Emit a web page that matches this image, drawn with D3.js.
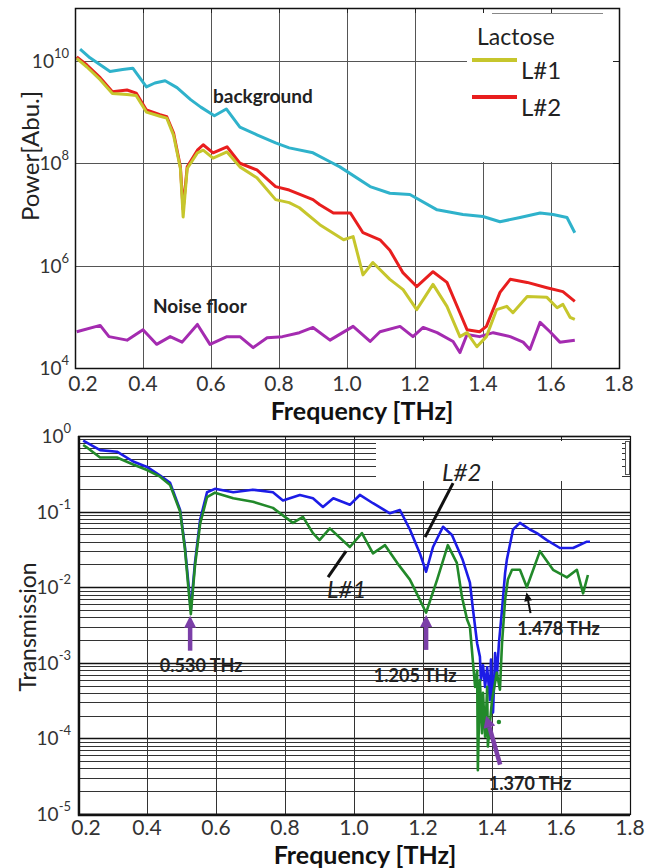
<!DOCTYPE html>
<html>
<head>
<meta charset="utf-8">
<script src="https://cdn.jsdelivr.net/npm/d3@7/dist/d3.min.js"></script>
<style>
  body { margin: 0; background: #fff; }
  svg { display: block; font-family: Lato, "Open Sans", sans-serif; }
</style>
</head>
<body>
<div id="chart"></div>
<script>
// ---- top panel: power spectra ----
const freqTicks = [0.2, 0.4, 0.6, 0.8, 1.0, 1.2, 1.4, 1.6, 1.8];
const powerTicks = [1e4, 1e6, 1e8, 1e10];

const bgFreq = [0.215, 0.244, 0.303, 0.34, 0.37, 0.41, 0.435, 0.465, 0.50, 0.54, 0.57, 0.61, 0.645, 0.685, 0.735, 0.79, 0.83, 0.90, 0.95, 0.979, 1.068, 1.126, 1.185, 1.265, 1.341, 1.40, 1.45, 1.509, 1.568, 1.606, 1.647, 1.67];
const bgPower = [1.7e10, 1.15e10, 6.2e9, 6.8e9, 7.2e9, 3.1e9, 3.7e9, 4.1e9, 3.0e9, 1.75e9, 1.25e9, 8.5e8, 1.15e9, 5.1e8, 3.6e8, 2.5e8, 2.0e8, 1.6e8, 1.07e8, 8.5e7, 3.5e7, 2.6e7, 2.45e7, 1.23e7, 1.0e7, 9.1e6, 7.2e6, 8.7e6, 1.07e7, 1.0e7, 8.7e6, 4.4e6];

const l2Freq = [0.205, 0.235, 0.274, 0.31, 0.353, 0.38, 0.41, 0.45, 0.47, 0.49, 0.51, 0.518, 0.53, 0.56, 0.577, 0.606, 0.647, 0.685, 0.735, 0.79, 0.83, 0.90, 0.92, 0.96, 1.01, 1.047, 1.097, 1.126, 1.165, 1.205, 1.253, 1.294, 1.332, 1.353, 1.39, 1.41, 1.45, 1.48, 1.53, 1.588, 1.635, 1.67];
const l2Power = [1.2e10, 8.3e9, 4.7e9, 2.5e9, 2.7e9, 2.35e9, 1.1e9, 8.9e8, 8.1e8, 3.9e8, 8.5e7, 1.26e7, 8.5e7, 1.8e8, 2.3e8, 1.6e8, 2.1e8, 1.0e8, 7.4e7, 3.5e7, 3.0e7, 1.95e7, 1.55e7, 1.07e7, 1.07e7, 4.4e6, 3.2e6, 2.0e6, 7.2e5, 3.9e5, 7.6e5, 4.7e5, 1.2e5, 5.6e4, 5.1e4, 6.5e4, 3.0e5, 5.4e5, 4.7e5, 3.7e5, 3.1e5, 2.0e5];

const l1Freq = [0.205, 0.235, 0.274, 0.31, 0.353, 0.38, 0.41, 0.45, 0.47, 0.49, 0.51, 0.518, 0.53, 0.56, 0.577, 0.606, 0.647, 0.685, 0.735, 0.79, 0.83, 0.86, 0.92, 0.99, 1.018, 1.047, 1.076, 1.126, 1.165, 1.205, 1.253, 1.294, 1.332, 1.353, 1.382, 1.41, 1.44, 1.47, 1.488, 1.53, 1.588, 1.618, 1.635, 1.656, 1.67];
const l1Power = [1.12e10, 7.6e9, 4.3e9, 2.3e9, 2.2e9, 2.1e9, 1.0e9, 8.3e8, 7.6e8, 3.5e8, 7.9e7, 8.9e6, 7.9e7, 1.6e8, 1.8e8, 1.26e8, 1.66e8, 8.5e7, 5.2e7, 1.95e7, 1.7e7, 1.35e7, 6.3e6, 3.2e6, 3.7e6, 6.6e5, 1.15e6, 5.4e5, 3.4e5, 1.38e5, 4.3e5, 1.6e5, 4.1e4, 4.9e4, 2.6e4, 4.1e4, 1.38e5, 1.6e5, 1.2e5, 2.5e5, 2.4e5, 1.5e5, 1.75e5, 9.8e4, 8.9e4];

const noiseFreq = [0.205, 0.274, 0.30, 0.353, 0.40, 0.44, 0.48, 0.515, 0.56, 0.597, 0.647, 0.685, 0.724, 0.765, 0.81, 0.86, 0.90, 0.95, 1.018, 1.068, 1.097, 1.156, 1.194, 1.224, 1.265, 1.312, 1.332, 1.353, 1.39, 1.43, 1.48, 1.518, 1.538, 1.568, 1.597, 1.626, 1.67];
const noisePower = [5.1e4, 6.8e4, 4.1e4, 3.5e4, 5.6e4, 2.9e4, 4.1e4, 3.2e4, 7.1e4, 2.9e4, 4.1e4, 4.1e4, 2.5e4, 3.9e4, 4.1e4, 4.9e4, 6.2e4, 3.5e4, 6.5e4, 3.3e4, 5.1e4, 6.5e4, 4.1e4, 6.2e4, 4.9e4, 3.3e4, 2.0e4, 4.5e4, 4.1e4, 4.9e4, 4.1e4, 3.2e4, 2.3e4, 7.8e4, 5.1e4, 3.2e4, 3.5e4];

const legendNames = ["L#1", "L#2"];

// ---- bottom panel: transmission ----
const transTicks = [1e-5, 1e-4, 1e-3, 1e-2, 1e-1, 1];

const blueFreq = [0.215, 0.223, 0.264, 0.313, 0.36, 0.40, 0.438, 0.467, 0.496, 0.51, 0.519, 0.527, 0.539, 0.554, 0.574, 0.597, 0.65, 0.707, 0.765, 0.794, 0.843, 0.881, 0.91, 0.94, 0.988, 1.017, 1.055, 1.104, 1.133, 1.162, 1.191, 1.209, 1.229, 1.258, 1.284, 1.315, 1.336, 1.345, 1.357, 1.365, 1.368, 1.374, 1.380, 1.386, 1.394, 1.397, 1.403, 1.409, 1.414, 1.420, 1.429, 1.438, 1.443, 1.461, 1.481, 1.51, 1.53, 1.559, 1.597, 1.635, 1.675, 1.684];
const blueTrans = [0.87, 0.83, 0.65, 0.62, 0.46, 0.39, 0.30, 0.24, 0.105, 0.034, 0.0126, 0.005, 0.021, 0.078, 0.18, 0.20, 0.18, 0.195, 0.18, 0.14, 0.166, 0.15, 0.115, 0.15, 0.123, 0.166, 0.129, 0.095, 0.105, 0.058, 0.028, 0.016, 0.034, 0.063, 0.049, 0.023, 0.0115, 0.005, 0.0018, 0.0012, 5.9e-4, 9.3e-4, 4.8e-4, 8.7e-4, 3.2e-4, 1.1e-3, 2.2e-4, 1.35e-3, 6.5e-4, 1.8e-3, 5.0e-3, 0.0155, 0.023, 0.058, 0.071, 0.058, 0.052, 0.042, 0.033, 0.033, 0.040, 0.040];

const greenFreq = [0.215, 0.223, 0.264, 0.313, 0.36, 0.40, 0.438, 0.467, 0.496, 0.51, 0.519, 0.527, 0.539, 0.554, 0.574, 0.597, 0.65, 0.707, 0.765, 0.823, 0.852, 0.881, 0.90, 0.93, 0.988, 1.023, 1.055, 1.09, 1.125, 1.162, 1.191, 1.209, 1.241, 1.272, 1.298, 1.313, 1.328, 1.336, 1.345, 1.351, 1.357, 1.359, 1.365, 1.371, 1.374, 1.380, 1.386, 1.388, 1.400, 1.414, 1.423, 1.429, 1.438, 1.446, 1.458, 1.481, 1.501, 1.539, 1.577, 1.617, 1.646, 1.664, 1.678];
const greenTrans = [0.76, 0.72, 0.52, 0.52, 0.42, 0.355, 0.29, 0.224, 0.10, 0.032, 0.011, 0.0044, 0.019, 0.069, 0.155, 0.178, 0.15, 0.135, 0.112, 0.071, 0.085, 0.052, 0.042, 0.060, 0.034, 0.052, 0.028, 0.036, 0.021, 0.0126, 0.0068, 0.0046, 0.0126, 0.036, 0.021, 0.0074, 0.0037, 0.003, 1.0e-3, 4.8e-4, 7.9e-4, 3.8e-5, 5.9e-4, 1.17e-4, 4.0e-4, 1.05e-4, 4.8e-4, 7.8e-5, 3.2e-4, 7.4e-4, 4.4e-4, 1.8e-3, 6.8e-3, 0.0126, 0.017, 0.017, 0.010, 0.030, 0.017, 0.0135, 0.017, 0.0083, 0.0145];

// resonance notes: text, arrow tip (freq, transmission), colour
const noteText = ["0.530 THz", "1.205 THz", "1.370 THz", "1.478 THz"];
const noteTipFreq = [0.525, 1.209, 1.383, 1.500];
const noteTipTrans = [4.2e-3, 4.3e-3, 2.0e-4, 8.6e-3];
const noteColor = ["#7b3fa8", "#7b3fa8", "#7b3fa8", "#111"];
// small offsets of arrow tail and label from the tip (px)
const noteTail = [[0, 35], [0, 35], [14, 49], [4, 21]];
const noteLabel = [[11, 56], [-11, 67], [44, 74], [32, 43]];

const W = 645, H = 868;
const svg = d3.select("#chart").append("svg")
  .attr("width", W)
  .attr("height", H);

const crisp = v => Math.round(v) + 0.5;

// ================= top panel =================
const x1 = d3.scaleLinear().domain([0.2, 1.8]).range([75, 619]);
const y1 = d3.scaleLog().domain([1e4, 1.08e11]).range([368, 8]);

const g1 = svg.append("g");

g1.selectAll(".vgrid").data(freqTicks).join("line")
  .attr("x1", d => crisp(x1(d))).attr("x2", d => crisp(x1(d)))
  .attr("y1", y1.range()[0]).attr("y2", y1.range()[1])
  .attr("stroke", "#555").attr("stroke-width", 1);

g1.selectAll(".hgrid").data(powerTicks).join("line")
  .attr("x1", x1.range()[0]).attr("x2", x1.range()[1])
  .attr("y1", d => crisp(y1(d))).attr("y2", d => crisp(y1(d)))
  .attr("stroke", "#555").attr("stroke-width", 1);

// legend box (white, hides the grid)
g1.append("rect")
  .attr("x", 467).attr("y", 10).attr("width", 150).attr("height", 152)
  .attr("fill", "#fff");
g1.append("line")
  .attr("x1", 492).attr("x2", 603).attr("y1", 13.5).attr("y2", 13.5)
  .attr("stroke", "#888").attr("stroke-width", 1);

// inner ticks
g1.selectAll(".tickT").data(freqTicks).join("line")
  .attr("x1", d => crisp(x1(d))).attr("x2", d => crisp(x1(d)))
  .attr("y1", 8).attr("y2", 13).attr("stroke", "#222");
g1.selectAll(".tickR").data(powerTicks).join("line")
  .attr("x1", 613).attr("x2", 619)
  .attr("y1", d => crisp(y1(d))).attr("y2", d => crisp(y1(d))).attr("stroke", "#222");

const line1 = d3.line().x(d => x1(d[0])).y(d => y1(d[1]));

const topSeries = [
  {f: bgFreq, v: bgPower, color: "#2fb2cb"},
  {f: noiseFreq, v: noisePower, color: "#a42bb0"},
  {f: l2Freq, v: l2Power, color: "#e81e1e"},
  {f: l1Freq, v: l1Power, color: "#c6c62c"}
];
g1.selectAll(".series").data(topSeries).join("path")
  .attr("d", s => line1(d3.zip(s.f, s.v)))
  .attr("fill", "none")
  .attr("stroke", s => s.color)
  .attr("stroke-width", 3)
  .attr("stroke-linejoin", "round");

// frame
g1.append("rect")
  .attr("x", 75.5).attr("y", 8.5)
  .attr("width", x1(1.8) - x1(0.2)).attr("height", y1(1e4) - y1.range()[1])
  .attr("fill", "none").attr("stroke", "#111").attr("stroke-width", 1.5);

// tick labels
g1.selectAll(".xlab").data(freqTicks).join("text")
  .attr("x", d => x1(d) + (d === 0.2 ? 8 : 0))
  .attr("y", 391)
  .attr("text-anchor", "middle")
  .attr("font-size", 21).attr("fill", "#333")
  .text(d => d.toFixed(1));

const ylab1 = g1.selectAll(".ylab").data(powerTicks).join("text")
  .attr("x", 69).attr("y", d => y1(d) + 7)
  .attr("text-anchor", "end")
  .attr("font-size", 19).attr("fill", "#333");
ylab1.append("tspan").text("10");
ylab1.append("tspan").attr("dy", -10).attr("font-size", 13)
  .text(d => Math.round(Math.log10(d)));

g1.append("text")
  .attr("x", 362).attr("y", 420)
  .attr("text-anchor", "middle")
  .attr("font-size", 25).attr("font-weight", "bold").attr("fill", "#111")
  .text("Frequency [THz]");

g1.append("text")
  .attr("transform", "translate(39,156) rotate(-90)")
  .attr("text-anchor", "middle")
  .attr("font-size", 24).attr("fill", "#222")
  .text("Power[Abu.]");

g1.append("text").attr("x", 213).attr("y", 103)
  .attr("font-size", 19).attr("font-weight", "bold").attr("fill", "#222")
  .text("background");
g1.append("text").attr("x", 153).attr("y", 313)
  .attr("font-size", 19).attr("font-weight", "bold").attr("fill", "#222")
  .text("Noise floor");

// legend
g1.append("text").attr("x", 477).attr("y", 45)
  .attr("font-size", 23).attr("fill", "#222").text("Lactose");
const legColors = ["#c6c62c", "#e81e1e"];
const leg = g1.selectAll(".leg").data(legendNames).join("g")
  .attr("transform", (d, i) => `translate(0,${60 + i * 37})`);
leg.append("line")
  .attr("x1", 472).attr("x2", 517)
  .attr("stroke", (d, i) => legColors[i]).attr("stroke-width", 4);
leg.append("text").attr("x", 521).attr("y", 19)
  .attr("font-size", 24).attr("fill", "#222")
  .text(d => d);

// ================= bottom panel =================
const x2 = d3.scaleLinear().domain([0.2, 1.8]).range([78, 630]);
const y2 = d3.scaleLog().domain([1e-5, 1]).range([814, 436]);

const g2 = svg.append("g");

const minorTicks = [];
transTicks.slice(0, -1).forEach(t => {
  for (let k = 2; k <= 9; k++) minorTicks.push(t * k);
});

g2.selectAll(".minor").data(minorTicks).join("line")
  .attr("x1", x2.range()[0]).attr("x2", x2.range()[1])
  .attr("y1", d => crisp(y2(d))).attr("y2", d => crisp(y2(d)))
  .attr("stroke", "#333").attr("stroke-width", 1);
g2.selectAll(".major").data(transTicks).join("line")
  .attr("x1", x2.range()[0]).attr("x2", x2.range()[1])
  .attr("y1", d => crisp(y2(d))).attr("y2", d => crisp(y2(d)))
  .attr("stroke", "#111").attr("stroke-width", 1.4);
g2.selectAll(".vgrid").data(freqTicks).join("line")
  .attr("x1", d => crisp(x2(d))).attr("x2", d => crisp(x2(d)))
  .attr("y1", y2.range()[0]).attr("y2", y2.range()[1])
  .attr("stroke", "#333").attr("stroke-width", 1);

// blanked legend area
g2.append("rect")
  .attr("x", 376).attr("y", 441).attr("width", 246).attr("height", 40)
  .attr("fill", "#fff");
g2.append("rect")
  .attr("x", 625.5).attr("y", 441.5).attr("width", 4).attr("height", 33)
  .attr("fill", "#fff").attr("stroke", "#555");

g2.selectAll(".tickT").data(freqTicks).join("line")
  .attr("x1", d => crisp(x2(d))).attr("x2", d => crisp(x2(d)))
  .attr("y1", 436).attr("y2", 441).attr("stroke", "#222");

const line2 = d3.line().x(d => x2(d[0])).y(d => y2(d[1]));
const botSeries = [
  {f: blueFreq, v: blueTrans, color: "#1c1ce6"},
  {f: greenFreq, v: greenTrans, color: "#22892a"}
];
g2.selectAll(".series").data(botSeries).join("path")
  .attr("d", s => line2(d3.zip(s.f, s.v)))
  .attr("fill", "none")
  .attr("stroke", s => s.color)
  .attr("stroke-width", 2.6)
  .attr("stroke-linejoin", "round");

// stray green point
g2.append("circle")
  .attr("cx", x2(1.42)).attr("cy", y2(1.65e-4)).attr("r", 2.2)
  .attr("fill", "#22892a");

// frame
g2.append("rect")
  .attr("x", 78.5).attr("y", 436.5)
  .attr("width", x2(1.8) - x2(0.2)).attr("height", y2(1e-5) - y2(1))
  .attr("fill", "none").attr("stroke", "#111").attr("stroke-width", 1.2);
g2.append("path")
  .attr("d", `M79,436V815H630`)
  .attr("fill", "none").attr("stroke", "#111").attr("stroke-width", 2.4);

g2.selectAll(".xlab").data(freqTicks).join("text")
  .attr("x", d => x2(d) + (d === 0.2 ? 8 : 0))
  .attr("y", 835)
  .attr("text-anchor", "middle")
  .attr("font-size", 21).attr("fill", "#333")
  .text(d => d.toFixed(1));

const ylab2 = g2.selectAll(".ylab").data(transTicks).join("text")
  .attr("x", 71).attr("y", d => y2(d) + 7)
  .attr("text-anchor", "end")
  .attr("font-size", 19).attr("fill", "#333");
ylab2.append("tspan").text("10");
ylab2.append("tspan").attr("dy", -10).attr("font-size", 13)
  .text(d => Math.round(Math.log10(d)));

g2.append("text")
  .attr("x", 365).attr("y", 864)
  .attr("text-anchor", "middle")
  .attr("font-size", 25).attr("font-weight", "bold").attr("fill", "#111")
  .text("Frequency [THz]");

g2.append("text")
  .attr("transform", "translate(36,627) rotate(-90)")
  .attr("text-anchor", "middle")
  .attr("font-size", 23).attr("fill", "#222")
  .text("Transmission");

// L#1 / L#2 pointers
const ptrFreq = [0.977, 1.206];
const ptrTrans = [0.030, 0.046];
const ptrName = ["L#1", "L#2"];
const ptrEnd = [[-18, 26], [28, -54]];
const ptrText = [[-19, 47], [17, -56]];
ptrName.forEach((n, i) => {
  const px = x2(ptrFreq[i]), py = y2(ptrTrans[i]);
  g2.append("line")
    .attr("x1", px).attr("y1", py)
    .attr("x2", px + ptrEnd[i][0]).attr("y2", py + ptrEnd[i][1])
    .attr("stroke", "#111").attr("stroke-width", 3);
  g2.append("text")
    .attr("x", px + ptrText[i][0]).attr("y", py + ptrText[i][1])
    .attr("font-size", 24).attr("font-style", "italic").attr("fill", "#222")
    .text(n);
});

// resonance arrows
noteText.forEach((t, i) => {
  const tx = x2(noteTipFreq[i]), ty = y2(noteTipTrans[i]);
  const bx = tx + noteTail[i][0], by = ty + noteTail[i][1];
  const ang = Math.atan2(ty - by, tx - bx);
  const hl = i === 3 ? 9 : 12, hw = i === 3 ? 4 : 6;
  const c = Math.cos(ang), s = Math.sin(ang);
  const hx = tx - hl * c, hy = ty - hl * s;
  g2.append("line")
    .attr("x1", bx).attr("y1", by).attr("x2", hx).attr("y2", hy)
    .attr("stroke", noteColor[i]).attr("stroke-width", i === 3 ? 2 : 4.5);
  g2.append("path")
    .attr("d", `M${tx},${ty}L${hx - hw * s},${hy + hw * c}L${hx + hw * s},${hy - hw * c}Z`)
    .attr("fill", noteColor[i]);
  g2.append("text")
    .attr("x", tx + noteLabel[i][0]).attr("y", ty + noteLabel[i][1])
    .attr("text-anchor", "middle")
    .attr("font-size", 18).attr("font-weight", "bold").attr("fill", "#222")
    .text(t);
});
</script>
</body>
</html>
